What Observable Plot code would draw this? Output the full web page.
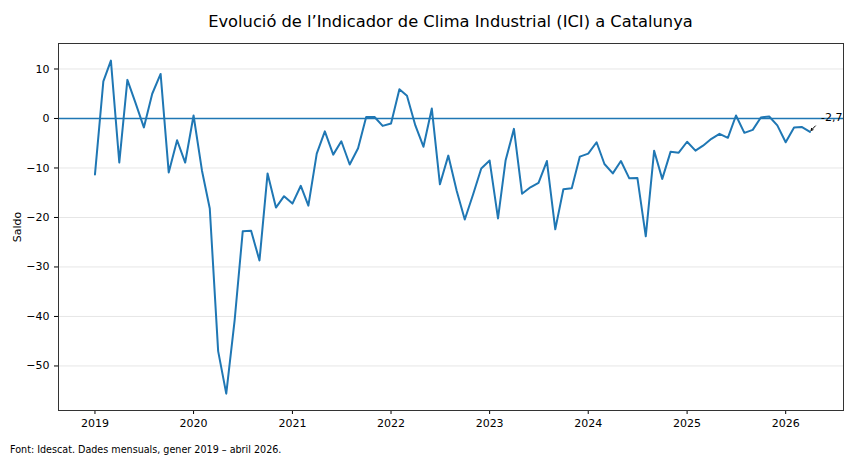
<!DOCTYPE html>
<html>
<head>
<meta charset="utf-8">
<script src="https://cdn.jsdelivr.net/npm/d3@7"></script>
<script src="https://cdn.jsdelivr.net/npm/@observablehq/plot@0.6"></script>
<style>
  body { margin: 0; background: #fff; font-family: "DejaVu Sans", sans-serif; }
  #wrap { position: relative; width: 845px; height: 455px; overflow: hidden; background: #fff; }
  #title { position: absolute; top: 12px; left: 58px; width: 785px; text-align: center; font-size: 16.3px; color: #000; }
  #cap { position: absolute; left: 10px; top: 444px; font-size: 9.6px; color: #000; white-space: nowrap; }
  #chart { position: absolute; left: 0; top: 0; }
</style>
</head>
<body>
<div id="wrap">
  <div id="chart"></div>
  <div id="title">Evolució de l’Indicador de Clima Industrial (ICI) a Catalunya</div>
  <div id="cap">Font: Idescat. Dades mensuals, gener 2019 – abril 2026.</div>
</div>
<script>
// Monthly series: January 2019 – April 2026
const startMonth = "2019-01-01";
const endMonth = "2026-05-01";
const iciValues = [
  -11.3, 7.5, 11.7, -8.9, 7.8, 3.0, -1.8, 5.0, 9.0, -10.9, -4.4, -8.9,      // 2019
  0.6, -10.5, -18.2, -47.0, -55.6, -40.8, -22.8, -22.7, -28.7, -11.1, -18.0, -15.7, // 2020
  -17.2, -13.6, -17.6, -7.1, -2.6, -7.3, -4.6, -9.3, -6.0, 0.3, 0.3, -1.5,   // 2021
  -1.0, 5.9, 4.6, -1.4, -5.7, 2.0, -13.3, -7.5, -14.6, -20.4, -15.3, -10.1,  // 2022
  -8.5, -20.2, -8.5, -2.1, -15.2, -13.9, -13.0, -8.6, -22.4, -14.3, -14.1, -7.7, // 2023
  -7.1, -4.8, -9.2, -11.1, -8.6, -12.1, -12.0, -23.8, -6.5, -12.2, -6.7, -6.9, // 2024
  -4.7, -6.5, -5.5, -4.1, -3.1, -3.9, 0.6, -2.9, -2.3, 0.2, 0.4, -1.4,      // 2025
  -4.8, -1.8, -1.7, -2.7                                                    // 2026
];
const yTicks = [-50, -40, -30, -20, -10, 0, 10];
const xTickYears = [2019, 2020, 2021, 2022, 2023, 2024, 2025, 2026];
const lastLabel = "-2,7";

const months = d3.utcMonth.range(new Date(startMonth), new Date(endMonth));
const data = months.map((d, i) => ({date: d, value: iciValues[i]}));
const last = data[data.length - 1];
const xTicks = xTickYears.map(y => new Date(Date.UTC(y, 0, 1)));

const blue = "#1f77b4";

const chart = Plot.plot({
  width: 845,
  height: 455,
  marginTop: 43,
  marginBottom: 45,
  marginLeft: 58,
  marginRight: 2,
  style: {fontFamily: "DejaVu Sans, sans-serif", fontSize: "11px", color: "#000", background: "#fff", overflow: "visible"},
  x: {
    type: "utc",
    domain: [new Date(Date.UTC(2018, 7, 19)), new Date(Date.UTC(2026, 7, 3))],
    ticks: xTicks,
    tickFormat: d3.utcFormat("%Y"),
    tickSize: 4,
    label: null
  },
  y: {
    domain: [-59, 15.15],
    ticks: yTicks,
    tickSize: 4,
    grid: false,
    label: "Saldo",
    labelAnchor: "center",
    labelArrow: "none",
    labelOffset: 45
  },
  marks: [
    Plot.gridY(yTicks, {stroke: "#e6e6e6", strokeOpacity: 1, strokeWidth: 1}),
    Plot.ruleY([0], {stroke: blue, strokeWidth: 1.5}),
    Plot.lineY(data, {x: "date", y: "value", stroke: blue, strokeWidth: 2}),
    Plot.arrow([last], {
      x1: d => d3.utcDay.offset(d.date, 20),
      y1: d => d.value + 1.2,
      x2: d => d3.utcDay.offset(d.date, 4),
      y2: d => d.value + 0.3,
      stroke: "#000",
      strokeWidth: 1,
      headLength: 5
    }),
    Plot.text([last], {x: "date", y: "value", text: () => lastLabel, dx: 11, dy: -14, textAnchor: "start", fill: "#000", fontSize: 11}),
    Plot.frame({stroke: "#333", strokeWidth: 1})
  ]
});
document.getElementById("chart").appendChild(chart);
</script>
</body>
</html>
